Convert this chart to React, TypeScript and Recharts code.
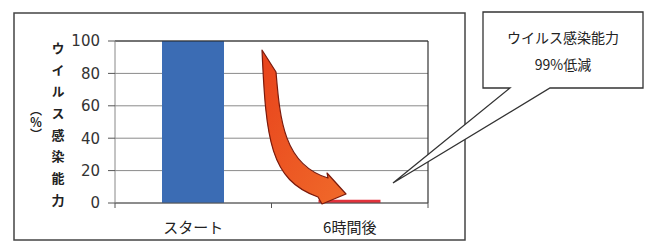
import { BarChart, Bar, XAxis, YAxis, CartesianGrid, ReferenceLine, Cell } from 'recharts';

// categories and values
const categories = ['スタート', '6時間後'];
const infectivity = [100, 2];
const yTicks = [0, 20, 40, 60, 80, 100];
const yLabel = 'ウイルス感染能力';
const yUnit = '（％）';
const calloutLines = ['ウイルス感染能力', '99%低減'];

const BAR_COLORS = ['#3b6cb4', '#e2323c'];
const JP = '"Noto Sans CJK JP", "Noto Sans", sans-serif';
const NUM = '"DejaVu Sans", Verdana, sans-serif';

const data = categories.map((name, i) => ({ name, pos: i + 0.5, value: infectivity[i] }));
const xTicks = [0, 0.5, 1, 1.5, 2];

function XTick(props: any) {
  const { x, y, payload } = props;
  const v = payload.value as number;
  if (Number.isInteger(v)) {
    return <line x1={x} x2={x} y1={y} y2={y + 5} stroke="#555" strokeWidth={1} />;
  }
  const label = categories[Math.floor(v)];
  return (
    <text x={x} y={y + 30} textAnchor="middle" fontFamily={JP} fontSize={15} fill="#222">
      {label}
    </text>
  );
}

export default function App() {
  return (
    <div style={{ position: 'absolute', left: 0, top: 0, width: 657, height: 242, background: '#fff' }}>
      <BarChart
        width={657}
        height={242}
        data={data}
        margin={{ top: 41, right: 229, bottom: 0, left: 0 }}
      >
        <CartesianGrid vertical={false} stroke="#8a8a8a" strokeWidth={1} />
        <XAxis
          type="number"
          dataKey="pos"
          domain={[0, 2]}
          ticks={xTicks}
          tick={XTick}
          tickLine={false}
          tickSize={0}
          tickMargin={0}
          height={39}
          axisLine={{ stroke: '#555' }}
          interval={0}
        />
        <YAxis
          domain={[0, 100]}
          ticks={yTicks}
          width={115}
          tickSize={7}
          tickMargin={8}
          axisLine={{ stroke: '#888' }}
          tickLine={{ stroke: '#555' }}
          tick={{ fontFamily: NUM, fontSize: 15, fill: '#333' }}
        />
        <ReferenceLine y={100} stroke="#222" strokeWidth={1} />
        <ReferenceLine x={2} stroke="#333" strokeWidth={1.2} />
        <Bar dataKey="value" barSize={62} isAnimationActive={false}>
          {data.map((d, i) => (
            <Cell key={d.name} fill={BAR_COLORS[i]} />
          ))}
        </Bar>
      </BarChart>

      {/* frame, y label, arrow and callout */}
      <svg
        width={657}
        height={242}
        style={{ position: 'absolute', left: 0, top: 0, pointerEvents: 'none' }}
      >
        <defs>
          <linearGradient id="arrowFill" x1="0" y1="0" x2="1" y2="1">
            <stop offset="0%" stopColor="#e8431c" />
            <stop offset="100%" stopColor="#f06a2a" />
          </linearGradient>
        </defs>
        <rect x={14} y={13} width={451} height={227} fill="none" stroke="#444" strokeWidth={1.5} />

        <text
          x={58}
          y={41.5}
          fontFamily={JP}
          fontSize={13}
          fontWeight={700}
          fill="#222"
          style={{ writingMode: 'vertical-rl', letterSpacing: 8.7 } as any}
        >
          {yLabel}
        </text>
        <text
          x={36}
          y={104}
          fontFamily={JP}
          fontSize={12}
          fontWeight={700}
          fill="#222"
          style={{ writingMode: 'vertical-rl' } as any}
        >
          {yUnit}
        </text>

        <path
          d="M262,50 L276,72 C280,120 284,165 328,178 L327,173 L346,194 L322,204 L318,197 C270,180 266,140 262,50 Z"
          fill="url(#arrowFill)"
          stroke="#7a1a0c"
          strokeWidth={1.2}
          strokeLinejoin="round"
        />

        <path
          d="M483,12 H643 V88 H550 L393,183 L510,88 H483 Z"
          fill="#fff"
          stroke="#333"
          strokeWidth={1.3}
          strokeLinejoin="miter"
        />
        <text x={563} y={43} textAnchor="middle" fontFamily={JP} fontSize={14} fill="#222">
          {calloutLines[0]}
        </text>
        <text x={563} y={70} textAnchor="middle" fontFamily={JP} fontSize={14} fill="#222">
          {calloutLines[1]}
        </text>
      </svg>
    </div>
  );
}
